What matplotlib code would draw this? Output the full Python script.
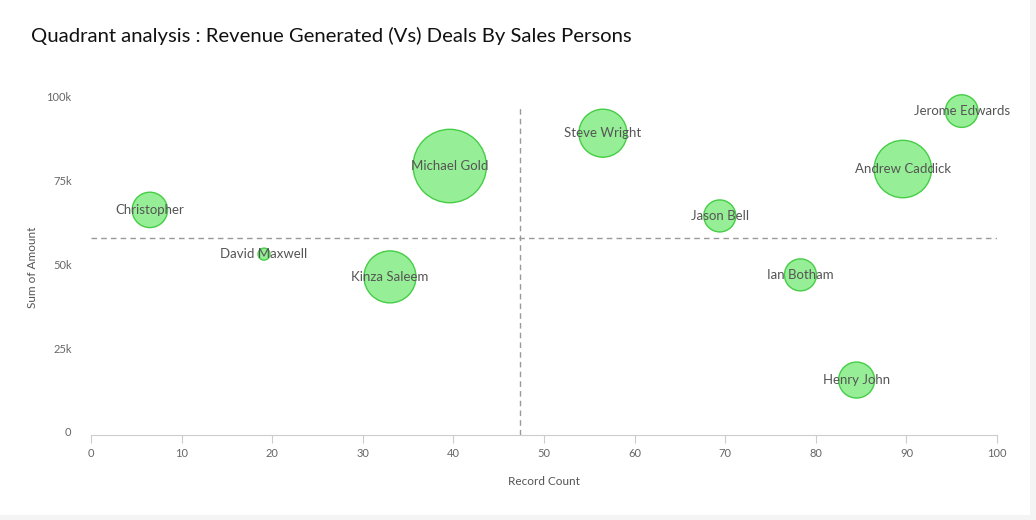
import matplotlib.pyplot as plt
from matplotlib.ticker import FuncFormatter
from matplotlib.patches import Rectangle
from matplotlib.transforms import ScaledTranslation

# sales persons: record count, sum of amount, bubble value
names = ["Christopher", "David Maxwell", "Kinza Saleem", "Michael Gold", "Steve Wright",
         "Jason Bell", "Ian Botham", "Henry John", "Andrew Caddick", "Jerome Edwards"]
record_count = [6.5, 19.1, 33.0, 39.6, 56.5, 69.4, 78.3, 84.5, 89.6, 96.1]
amount = [67200, 54000, 47200, 80300, 90100, 65400, 47800, 16400, 79400, 96700]
bubble = [313, 36, 676, 1347, 576, 256, 256, 324, 824, 266]

avg_count = 47.35
avg_amount = 58800

plt.rcParams['font.family'] = ['Lato', 'DejaVu Sans']

fig = plt.figure(figsize=(10.36, 5.2), dpi=100)
fig.patch.set_facecolor("#f4f4f4")
fig.patches.append(Rectangle((0, 0.01), 0.994, 0.99, transform=fig.transFigure,
                             facecolor="white", edgecolor="none", zorder=-1))

ax = fig.add_axes([0.0878, 0.1635, 0.8746, 0.657])
ax.set_facecolor("none")

px = 0.72  # points per pixel at 100 dpi
sizes = [(2 * px) ** 2 * b for b in bubble]
ax.scatter(record_count, amount, s=sizes, facecolor="#90ee90", edgecolor="#3fcb3f",
           linewidth=1.0, alpha=0.95, zorder=3, clip_on=False)

for n, x, y in zip(names, record_count, amount):
    ax.text(x, y, n, ha="center", va="center", fontsize=9.5, color="#555555", zorder=4)

ax.axvline(avg_count, ymax=0.965, color="#999999", linestyle=(0, (4, 3)), linewidth=1, zorder=2)
ax.axhline(avg_amount, color="#999999", linestyle=(0, (4, 3)), linewidth=1, zorder=2)

ax.set_xlim(0, 100)
ax.set_ylim(0, 102000)
ax.set_xticks(range(0, 101, 10))
ax.set_yticks([0, 25000, 50000, 75000, 100000])
ax.yaxis.set_major_formatter(FuncFormatter(lambda v, p: "0" if v == 0 else f"{int(v / 1000)}k"))

for s in ["top", "right", "left"]:
    ax.spines[s].set_visible(False)
ax.spines["bottom"].set_color("#cccccc")
ax.tick_params(axis="x", colors="#cccccc", length=6, labelcolor="#666666", labelsize=8)
ax.tick_params(axis="y", length=0, labelcolor="#666666", labelsize=8, pad=14)

shift = ScaledTranslation(0, 2.3 / 72, fig.dpi_scale_trans)
for lbl in ax.get_yticklabels():
    lbl.set_transform(lbl.get_transform() + shift)

ax.set_xlabel("Record Count", fontsize=8.5, color="#555555", labelpad=12)
ax.set_ylabel("Sum of Amount", fontsize=8.5, color="#555555", labelpad=5)
ax.yaxis.set_label_coords(-0.058, 0.49)

fig.text(0.03, 0.93, "Quadrant analysis : Revenue Generated (Vs) Deals By Sales Persons",
         fontsize=14.6, color="#111111", va="center", ha="left")

fig.savefig("out.png", dpi=100)
